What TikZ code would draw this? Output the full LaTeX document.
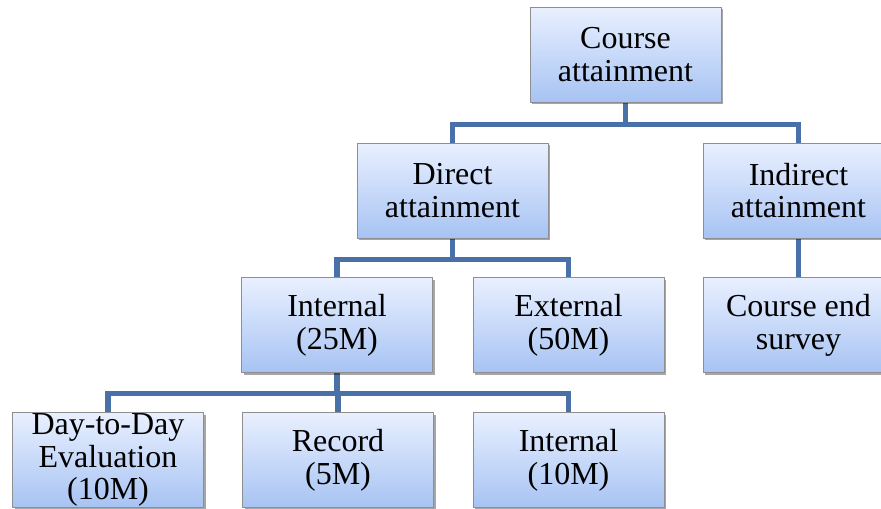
\documentclass[tikz,border=0pt]{standalone}
\usepackage{fontspec}
\setmainfont{Liberation Serif}
\usetikzlibrary{shadows,backgrounds}
\definecolor{boxtop}{HTML}{E9F0FF}
\definecolor{boxbottom}{HTML}{A7C3F3}
\definecolor{boxline}{HTML}{8E8E8E}
\definecolor{linkblue}{HTML}{4A70A8}
\tikzset{
  every picture/.style={line join=round},
  item/.style={draw=boxline, line width=0.6pt, top color=boxtop, bottom color=boxbottom,
    minimum width=143.25pt, minimum height=71.25pt, align=center, inner sep=0pt,
    font=\fontsize{24}{24.6}\selectfont,
    drop shadow={shadow xshift=1.5pt, shadow yshift=-1.5pt, opacity=0.35, fill=black}},
  link/.style={draw=linkblue, line width=3.8pt},
}

\begin{document}
\begin{tikzpicture}[x=0.75pt,y=-0.75pt]
\useasboundingbox (0,0) rectangle (881,508);
\clip (0,0) rectangle (881,508);
% boxes
\node[item] (course) at (625.5,54.5) {Course\\attainment};
\node[item] (direct) at (452.5,190.5) {Direct\\attainment};
\node[item] (indirect) at (798.5,190.5) {Indirect\\attainment};
\node[item] (internal) at (337,325) {Internal\\(25M)};
\node[item] (external) at (568.5,325) {External\\(50M)};
\node[item] (survey) at (798.5,325) {Course end\\survey};
\node[item] (daily) at (108,460) {Day-to-Day\\Evaluation\\(10M)};
\node[item] (record) at (338,460) {Record\\(5M)};
\node[item] (test) at (568.5,460) {Internal\\(10M)};
% links behind the boxes
\begin{scope}[on background layer]
\draw[link] (course.south) -- ++(0,22) -| (direct.north);
\draw[link] (course.south) -- ++(0,22) -| (indirect.north);
\draw[link] (direct.south) -- ++(0,21) -| (internal.north);
\draw[link] (direct.south) -- ++(0,21) -| (external.north);
\draw[link] (indirect.south) -- (survey.north);
\draw[link] (internal.south) -- ++(0,21) -| (daily.north);
\draw[link] (internal.south) -- ++(0,21) -| (record.north);
\draw[link] (internal.south) -- ++(0,21) -| (test.north);
\end{scope}
\end{tikzpicture}
\end{document}
